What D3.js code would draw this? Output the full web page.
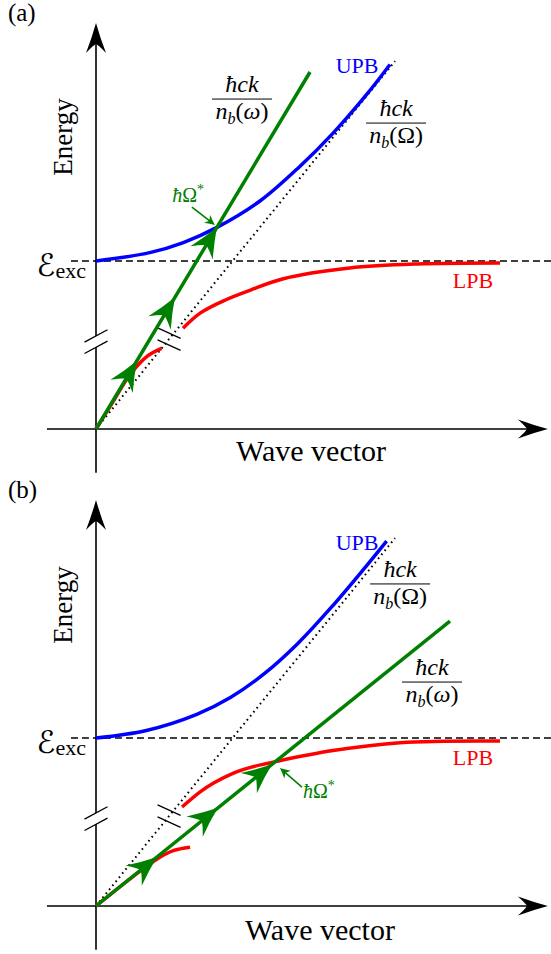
<!DOCTYPE html>
<html><head><meta charset="utf-8">
<script src="https://cdn.jsdelivr.net/npm/d3@7"></script>
<style>body{margin:0;background:#fff}svg{display:block}text{font-family:"Liberation Serif","Times New Roman",serif;fill:#000}</style>
</head><body><svg id="c" width="551" height="954"></svg>
<script>
// ---------- data (k = wave vector, E = energy, exciton energy = 1) ----------
const panelNames = ["(a)", "(b)"];
const excitonE = 1.0;
const photonBgEnd = [1.78, 2.19];          // dotted  ħck / n_b(Ω)
const photonEndA = [1.274, 2.125];         // green   ħck / n_b(ω)  panel a
const photonEndB = [2.107, 1.696];         // green   panel b
const upbA = [[0,1.0],[0.32,1.05],[0.52,1.11],[0.72,1.20],[0.98,1.36],[1.21,1.56],[1.41,1.76],[1.61,1.99],[1.75,2.17]];
const upbB = [[0,1.0],[0.3,1.045],[0.6,1.141],[0.8,1.241],[1.0,1.381],[1.2,1.561],[1.4,1.777],[1.6,2.013],[1.73,2.172]];
const lpbLowA = [[0,0],[0.10,0.16],[0.20,0.32],[0.30,0.43],[0.39,0.48]];
const lpbHighA = [[0.518,0.60],[0.62,0.69],[0.77,0.768],[0.92,0.827],[1.11,0.893],[1.51,0.958],[1.91,0.982],[2.405,0.988]];
const lpbLowB = [[0,0],[0.22,0.175],[0.38,0.29],[0.46,0.33],[0.56,0.35]];
const lpbHighB = [[0.512,0.589],[0.62,0.679],[0.70,0.732],[0.815,0.79],[0.92,0.825],[1.08,0.862],[1.41,0.925],[1.81,0.972],[2.405,0.982]];
const flowArrowsA = [0.244, 0.470, 0.720];
const flowArrowsB = [0.363, 0.726, 1.048];
const crossingA = {label:[0.548,1.351], from:[0.571,1.321], to:[0.708,1.214], anchor:"middle"};
const crossingB = {label:[1.232,0.643], from:[1.226,0.708], to:[1.095,0.821], anchor:"start"};
const fracOmegaBigA = [1.786, 1.821], fracOmegaSmallA = [0.869, 1.964];
const fracOmegaBigB = [1.810, 1.917], fracOmegaSmallB = [2.0, 1.333];
const upbLabel = [1.554, 2.119], lpbLabel = [2.244, 0.839];
const energyLabelA = [-0.196, 1.738], energyLabelB = [-0.196, 1.792];
const waveLabelA = [1.28, -0.19], waveLabelB = [1.333, -0.2];
const excLabel = [-0.06, 0.899];
const panelLabel = [-0.524, 2.43];
const axisK = [-0.292, 2.69], axisE = [-0.26, 2.417];
const axisBreakE = 0.52, photonBreakK = 0.435;

// ---------- drawing ----------
const svg = d3.select("#c");
const GREEN = "#008000", BLUE = "#0000ff", RED = "#ff0000";
const x = d3.scaleLinear().domain([0, 1]).range([96, 264]);
const origins = [429, 906];

function head(g, px, py, ang, L, W, N, color) {
  g.append("path")
    .attr("d", `M0,0 Q${-L*0.5},${-W*0.42} ${-L},${-W} Q${-N-1},${-W*0.25} ${-N},0 Q${-N-1},${W*0.25} ${-L},${W} Q${-L*0.5},${W*0.42} 0,0Z`)
    .attr("transform", `translate(${px},${py}) rotate(${ang})`)
    .attr("fill", color);
}

function frac(g, cx, cy, big) {
  g.append("text").attr("x", cx).attr("y", cy - 7).attr("text-anchor", "middle")
    .attr("font-size", 24).attr("font-style", "italic").text("ħck");
  g.append("line").attr("x1", cx - 30).attr("x2", cx + 30).attr("y1", cy).attr("y2", cy)
    .attr("stroke", "#000").attr("stroke-width", 1);
  const t = g.append("text").attr("x", cx).attr("y", cy + 20).attr("text-anchor", "middle").attr("font-size", 24);
  t.append("tspan").attr("font-style", "italic").text("n");
  t.append("tspan").attr("font-style", "italic").attr("font-size", 16).attr("dy", 5).text("b");
  t.append("tspan").attr("dy", -5).text("(");
  t.append("tspan").attr("font-style", big ? "normal" : "italic").text(big ? "Ω" : "ω");
  t.append("tspan").text(")");
}

function drawPanel(i, cfg) {
  const y = d3.scaleLinear().domain([0, 1]).range([origins[i], origins[i] - 168]);
  const g = svg.append("g");
  const line = d3.line().x(d => x(d[0])).y(d => y(d[1])).curve(d3.curveCatmullRom.alpha(0.5));

  // axes
  g.append("line").attr("x1", x(0)).attr("x2", x(0)).attr("y1", y(axisE[0])).attr("y2", y(axisE[1]) + 20)
    .attr("stroke", "#000").attr("stroke-width", 1.6);
  g.append("line").attr("x1", x(axisK[0])).attr("x2", x(axisK[1]) - 20).attr("y1", y(0)).attr("y2", y(0))
    .attr("stroke", "#000").attr("stroke-width", 1.6);
  head(g, x(0), y(axisE[1]), -90, 30, 10, 21, "#000");
  head(g, x(axisK[1]), y(0), 0, 30, 9.5, 21, "#000");

  // axis break
  const bx = x(0), by = y(axisBreakE);
  g.append("path").attr("d", `M${bx-11},${by-5.7+6} L${bx+11},${by-5.7-6} L${bx+11},${by+5.7-6} L${bx-11},${by+5.7+6}Z`).attr("fill", "#fff");
  [-5.7, 5.7].forEach(o => g.append("line").attr("x1", bx - 11.5).attr("y1", by + o + 6.2)
    .attr("x2", bx + 11.5).attr("y2", by + o - 6.2).attr("stroke", "#000").attr("stroke-width", 1.3));

  // exciton dashed
  g.append("line").attr("x1", x(-0.149)).attr("x2", 551).attr("y1", y(excitonE)).attr("y2", y(excitonE))
    .attr("stroke", "#000").attr("stroke-width", 1.4).attr("stroke-dasharray", "7,4");

  // dotted photon line
  g.append("line").attr("x1", x(0)).attr("y1", y(0)).attr("x2", x(photonBgEnd[0])).attr("y2", y(photonBgEnd[1]))
    .attr("stroke", "#000").attr("stroke-width", 2).attr("stroke-dasharray", "1.6,3.6");
  const pk = photonBreakK, pE = photonBreakK * photonBgEnd[1] / photonBgEnd[0];
  const px = x(pk), py = y(pE);
  [-6, 6].forEach(o => g.append("line").attr("x1", px - 11.5).attr("y1", py + o - 5.2)
    .attr("x2", px + 11.5).attr("y2", py + o + 5.2).attr("stroke", "#000").attr("stroke-width", 1.3));

  // polariton branches
  g.append("path").attr("d", line(cfg.upb)).attr("fill", "none").attr("stroke", BLUE).attr("stroke-width", 3.5);
  g.append("path").attr("d", line(cfg.lpbLow)).attr("fill", "none").attr("stroke", RED).attr("stroke-width", 3.5);
  g.append("path").attr("d", line(cfg.lpbHigh)).attr("fill", "none").attr("stroke", RED).attr("stroke-width", 3.5);

  // green light line
  const ge = cfg.green;
  g.append("line").attr("x1", x(0)).attr("y1", y(0)).attr("x2", x(ge[0])).attr("y2", y(ge[1]))
    .attr("stroke", GREEN).attr("stroke-width", 3.5);
  const ang = Math.atan2(y(ge[1]) - y(0), x(ge[0]) - x(0)) * 180 / Math.PI;
  cfg.arrows.forEach(k => head(g, x(k), y(k * ge[1] / ge[0]), ang, 30, 13, 21, GREEN));

  // ħΩ* annotation
  const c = cfg.cross;
  const a0 = [x(c.from[0]), y(c.from[1])], a1 = [x(c.to[0]), y(c.to[1])];
  const aa = Math.atan2(a1[1] - a0[1], a1[0] - a0[0]);
  g.append("line").attr("x1", a0[0]).attr("y1", a0[1]).attr("x2", a1[0] - 5 * Math.cos(aa)).attr("y2", a1[1] - 5 * Math.sin(aa))
    .attr("stroke", GREEN).attr("stroke-width", 1.6);
  head(g, a1[0], a1[1], aa * 180 / Math.PI, 10, 5, 7, GREEN);
  const ht = g.append("text").attr("x", x(c.label[0])).attr("y", y(c.label[1])).attr("text-anchor", c.anchor)
    .attr("font-size", 20).style("fill", GREEN);
  ht.append("tspan").attr("font-style", "italic").text("ħ");
  ht.append("tspan").text("Ω");
  ht.append("tspan").attr("font-size", 14).attr("dy", -8).text("*");

  // fractions
  frac(g, x(cfg.fracBig[0]), y(cfg.fracBig[1]), true);
  frac(g, x(cfg.fracSmall[0]), y(cfg.fracSmall[1]), false);

  // branch labels
  g.append("text").attr("x", x(upbLabel[0])).attr("y", y(upbLabel[1])).attr("text-anchor", "middle")
    .attr("font-size", 22).style("fill", BLUE).text("UPB");
  g.append("text").attr("x", x(lpbLabel[0])).attr("y", y(lpbLabel[1])).attr("text-anchor", "middle")
    .attr("font-size", 22).style("fill", RED).text("LPB");

  // axis labels
  const el = cfg.energyLabel;
  g.append("text").attr("transform", `translate(${x(el[0]) + 9},${y(el[1])}) rotate(-90)`).attr("text-anchor", "middle")
    .attr("font-size", 27).text("Energy");
  g.append("text").attr("x", x(cfg.waveLabel[0])).attr("y", y(cfg.waveLabel[1])).attr("text-anchor", "middle")
    .attr("font-size", 30).text("Wave vector");
  const et = g.append("text").attr("x", x(excLabel[0])).attr("y", y(excLabel[1])).attr("text-anchor", "end");
  et.append("tspan").attr("font-size", 31).style("font-family", "'DejaVu Serif','DejaVu Sans',serif").attr("dy", -2).text("ℰ");
  et.append("tspan").attr("font-size", 22).attr("dy", 2).text("exc");
  g.append("text").attr("x", x(panelLabel[0])).attr("y", y(panelLabel[1])).attr("font-size", 25).text(panelNames[i]);
}

drawPanel(0, {upb: upbA, lpbLow: lpbLowA, lpbHigh: lpbHighA, green: photonEndA, arrows: flowArrowsA,
  cross: crossingA, fracBig: fracOmegaBigA, fracSmall: fracOmegaSmallA, energyLabel: energyLabelA, waveLabel: waveLabelA});
drawPanel(1, {upb: upbB, lpbLow: lpbLowB, lpbHigh: lpbHighB, green: photonEndB, arrows: flowArrowsB,
  cross: crossingB, fracBig: fracOmegaBigB, fracSmall: fracOmegaSmallB, energyLabel: energyLabelB, waveLabel: waveLabelB});
</script></body></html>
